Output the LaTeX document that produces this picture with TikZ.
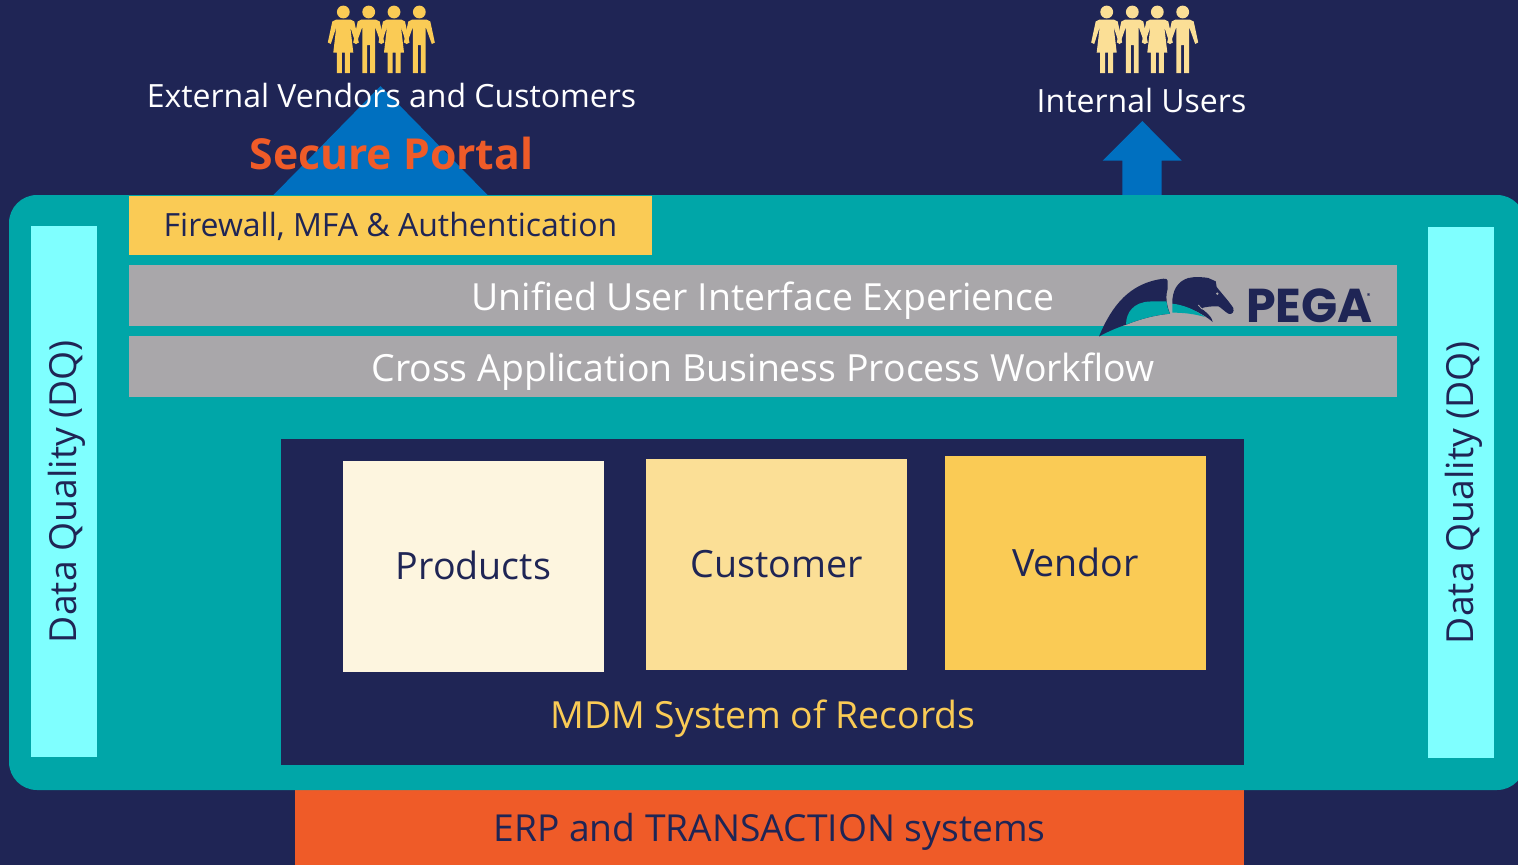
\documentclass[tikz,border=0pt]{standalone}
\usepackage{fontspec}
\setmainfont{Open Sans}
\newfontfamily\logofont{Poppins}
\usepackage{tikz}
\usetikzlibrary{positioning}

\definecolor{navy}{HTML}{1F2555}
\definecolor{tealbg}{HTML}{00A6A8}
\definecolor{sunny}{HTML}{FACB55}
\definecolor{sunnylight}{HTML}{FBDF96}
\definecolor{cream}{HTML}{FDF5DF}
\definecolor{greybar}{HTML}{A9A7AA}
\definecolor{cyanbar}{HTML}{7FFFFF}
\definecolor{orangebar}{HTML}{EF5B28}
\definecolor{bluearrow}{HTML}{0070C0}

\newcommand{\txt}[1]{\fontsize{#1}{#1}\selectfont}

\tikzset{
    box/.style={rectangle,inner sep=0pt,outer sep=0pt,align=center},
    barlabel/.style={text=white,inner sep=0pt,font=\txt{32}},
    dqbar/.style={box,fill=cyanbar,text=navy,minimum width=531pt,minimum height=66pt,rotate=90,text depth=4pt,font=\txt{37.3}},
    greybox/.style={box,fill=greybar,text=white,minimum width=1268pt,minimum height=61pt,text height=30.4pt,text depth=0pt,font=\txt{37.4}},
    recbox/.style={box,text=navy,minimum width=261pt,font=\txt{37.6}},
    woman/.pic={
        \fill (0,12) circle (6.4);
        \fill (-7,19.5) -- (7,19.5) -- (11,21.5) -- (15.5,42.5) -- (12.5,44) -- (7,27)
            -- (10,52.5) -- (6.5,52.5) -- (6.5,73) -- (1.5,73) -- (1.5,52.5) -- (-1.5,52.5)
            -- (-1.5,73) -- (-6.5,73) -- (-6.5,52.5) -- (-10,52.5) -- (-7,27) -- (-12.5,44)
            -- (-15.5,42.5) -- (-11,21.5) -- cycle;
    },
    man/.pic={
        \fill (0,12) circle (6.4);
        \fill (-7,19.5) -- (7,19.5) -- (11,21.5) -- (15.5,42.5) -- (12.5,44) -- (6.4,27)
            -- (6.4,73) -- (1.5,73) -- (1.5,45) -- (-1.5,45) -- (-1.5,73) -- (-6.4,73)
            -- (-6.4,27) -- (-12.5,44) -- (-15.5,42.5) -- (-11,21.5) -- cycle;
    }
}

\begin{document}
\begin{tikzpicture}[x=1pt,y=-1pt]
    \useasboundingbox (0,0) rectangle (1518,865);
    \fill[navy] (0,0) rectangle (1518,865);

    % arrows
    \fill[bluearrow] (380.5,86) -- (488,195.5) -- (273,195.5) -- cycle;
    \fill[bluearrow] (1142.3,121) -- (1181.7,160.7) -- (1161.7,160.7) -- (1161.7,196)
        -- (1122.3,196) -- (1122.3,160.7) -- (1102.7,160.7) -- cycle;

    % people
    \begin{scope}[sunny]
        \pic at (343.3,0) {woman};
        \pic at (368.7,0) {man};
        \pic at (394,0) {woman};
        \pic at (419.3,0) {man};
    \end{scope}
    \begin{scope}[sunnylight]
        \pic at (1106.7,0) {woman};
        \pic at (1132.3,0) {man};
        \pic at (1157.3,0) {woman};
        \pic at (1182.7,0) {man};
    \end{scope}

    \node (external) [barlabel] at (391.5,95.5) {External Vendors and Customers};
    \node (internal) [barlabel] at (1141.5,100.5) {Internal Users};
    \node (portal) [text=orangebar,inner sep=0pt,font=\txt{42.7}\bfseries] at (391.5,153) {Secure Portal};

    % ERP
    \node (erp) [box,fill=orangebar,text=navy,minimum width=949pt,minimum height=75pt,text depth=0pt,font=\txt{37.2}] at (769.5,827.5) {ERP and TRANSACTION systems};

    % main area
    \fill[tealbg,rounded corners=28pt] (9,195) rectangle (1525,790);

    \node (dqleft) [dqbar] at (64,491.5) {Data Quality (DQ)};
    \node (dqright) [dqbar] at (1461,492.5) {Data Quality (DQ)};

    \node (firewall) [box,fill=sunny,text=navy,minimum width=523pt,minimum height=59pt,text depth=2pt,font=\txt{32}] at (390.5,225.5) {Firewall, MFA \& Authentication};
    \node (unified) [greybox] at (763,295.5) {Unified User Interface Experience};
    \node (workflow) [greybox] at (763,366.5) {Cross Application Business Process Workflow};

    % MDM
    \fill[navy] (281,439) rectangle (1244,765);
    \node (products) [recbox,fill=cream,minimum height=211pt,text depth=2pt] at (473.5,566.5) {Products};
    \node (customer) [recbox,fill=sunnylight,minimum height=211pt] at (776.5,564.5) {Customer};
    \node (vendor) [recbox,fill=sunny,minimum height=214pt,text depth=2pt] at (1075.5,563) {Vendor};
    \node (mdm) [text=sunny,inner sep=0pt,font=\txt{37.4}] at (763,719) {MDM System of Records};

    % logo
    \fill[navy] (1099,336.5) .. controls (1112,305) and (1130,283) .. (1163.3,278.7)
        .. controls (1166,278.5) and (1167.7,279) .. (1167.7,281)
        -- (1167.7,288.7) .. controls (1165,297) and (1167,306) .. (1170,313.7)
        .. controls (1155,315) and (1140,319) .. (1126,324.7)
        .. controls (1116,328) and (1107,332) .. cycle;
    \fill[tealbg] (1126,324.7) .. controls (1126,312) and (1134,302) .. (1150,301.5)
        -- (1166.5,301.3) .. controls (1167,306) and (1168,310) .. (1170,313.7)
        .. controls (1155,315) and (1140,319) .. cycle;
    \fill[navy] (1172.3,303.7) .. controls (1172,290) and (1178,281) .. (1188.3,278)
        .. controls (1195,276.5) and (1203,277) .. (1208.3,278) -- (1215.7,281.3) -- (1216.7,287)
        .. controls (1222,294) and (1228,300) .. (1233.3,308)
        .. controls (1234.5,312) and (1232,315) .. (1228.3,313.7)
        .. controls (1224,311) and (1221,307.5) .. (1218.3,306.3)
        .. controls (1212,306) and (1205,307) .. (1202,308)
        .. controls (1204,312) and (1211,314) .. (1212.7,322)
        .. controls (1205,315) and (1190,307) .. cycle;
    \fill[tealbg] (1172.3,303.7) .. controls (1185,305) and (1197,311) .. (1205,317)
        .. controls (1195,314) and (1183,312.5) .. (1172.3,312.7) -- cycle;
    \draw[greybar,line width=0.8pt] (1198.3,305) .. controls (1200,308) and (1203,310) .. (1206,310.5);
    \fill[greybar] (1217.3,293.7) circle (1.3);
    \node (pega) [text=navy,inner sep=0pt,font=\logofont\txt{47.5}\bfseries,anchor=west] at (1246,306) {PEGA\hspace{-6pt}\raisebox{24pt}{\txt{7}®}};
\end{tikzpicture}
\end{document}
